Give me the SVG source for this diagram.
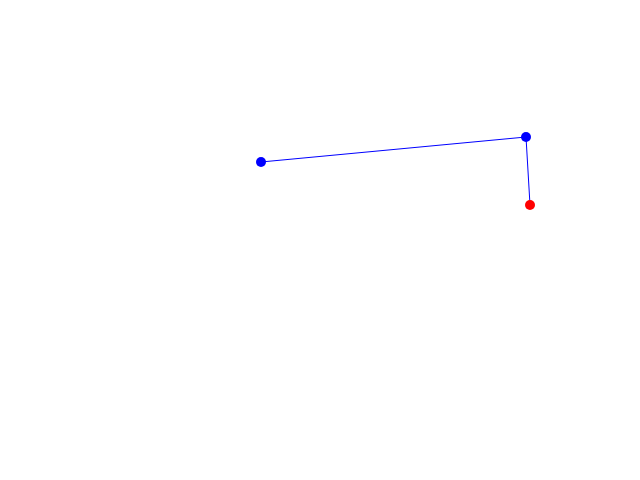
<svg xmlns="http://www.w3.org/2000/svg" width="640" height="480" viewBox="0 0 640 480">
<style>
.edge{stroke:#0000ff;stroke-width:1;fill:none}
.blue{fill:#0000ff}
.red{fill:#ff0000}
</style>
<rect width="640" height="480" fill="#ffffff"/>
<g id="connectors">
<line class="edge" x1="261" y1="162" x2="526" y2="137"/>
<line class="edge" x1="526" y1="137" x2="530" y2="205"/>
</g>
<g id="node1"><circle class="blue" cx="261" cy="162" r="5"/></g>
<g id="node2"><circle class="blue" cx="526" cy="137" r="5"/></g>
<g id="node3"><circle class="red" cx="530" cy="205" r="5"/></g>
</svg>
